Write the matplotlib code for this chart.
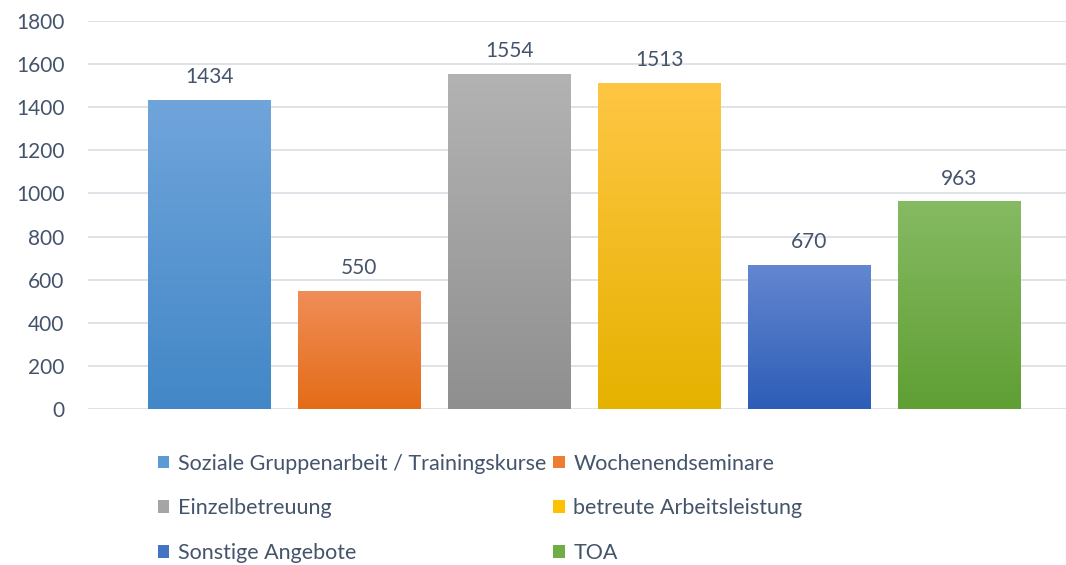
import numpy as np
import matplotlib
matplotlib.use("Agg")
import matplotlib.pyplot as plt
from matplotlib.colors import LinearSegmentedColormap
from matplotlib.patches import Patch

# -----------------------------
# Daten
# -----------------------------
kategorien = ["Soziale Gruppenarbeit / Trainingskurse", "Wochenendseminare",
              "Einzelbetreuung", "betreute Arbeitsleistung",
              "Sonstige Angebote", "TOA"]
werte = [1434, 550, 1554, 1513, 670, 963]

# Farbverlauf (oben, unten) je Balken
farben_oben = ["#70A5DB", "#F08E58", "#B3B3B3", "#FFC644", "#6487D0", "#86BA63"]
farben_unten = ["#4287C7", "#E46C17", "#8F8F8F", "#E5B200", "#2D5DB7", "#5F9F33"]
farben_mitte = ["#5B9BD5", "#ED7D31", "#A5A5A5", "#FFC000", "#4472C4", "#70AD47"]

textfarbe = "#44546A"
plt.rcParams['font.family'] = ['Lato', 'DejaVu Sans']

fig = plt.figure(figsize=(10.66, 5.65), dpi=100)
ax = fig.add_axes([88 / 1066, 1 - 409.3 / 565, 1 - 88 / 1066, (409.3 - 20.7) / 565])

x = np.arange(len(werte))
breite = 0.815
balken = ax.bar(x, werte, width=breite, color=farben_mitte, zorder=2)

# Farbverlauf in jedem Balken
for b, c_top, c_bot in zip(balken, farben_oben, farben_unten):
    cmap = LinearSegmentedColormap.from_list("g", [c_bot, c_top])
    grad = np.linspace(0, 1, 256).reshape(-1, 1)
    x0, y0 = b.get_x(), b.get_y()
    im = ax.imshow(grad, cmap=cmap, origin="lower", aspect="auto",
                   extent=[x0, x0 + b.get_width(), y0, y0 + b.get_height()],
                   zorder=3)
    im.set_clip_path(b)

# Werte über den Balken
for xi, v in zip(x, werte):
    ax.annotate(str(v), (xi, v), xytext=(0, 9), textcoords="offset points",
                ha="center", va="bottom", fontsize=15, color=textfarbe)

ax.set_xlim(-0.807, 5.713)
ax.set_ylim(0, 1800)
ax.set_yticks(np.arange(0, 1801, 200))
ax.set_xticks([])
ax.tick_params(axis="y", length=0, pad=17, labelsize=15, labelcolor=textfarbe)
ax.grid(axis="y", color="#D9DDE3", linewidth=1.2, zorder=0)
ax.set_axisbelow(True)
for s in ax.spines.values():
    s.set_visible(False)

# Legende (zeilenweise Reihenfolge)
handles = [Patch(facecolor=c, edgecolor="none") for c in farben_mitte]
order = [0, 2, 4, 1, 3, 5]
fig.legend([handles[i] for i in order], [kategorien[i] for i in order],
           loc="upper left", bbox_to_anchor=(149 / 1066, 1 - 445 / 565),
           ncol=2, frameon=False, fontsize=15.5, labelcolor=textfarbe,
           handlelength=0.55, handleheight=0.55, handletextpad=0.4,
           columnspacing=0.3, labelspacing=1.15, borderaxespad=0)

fig.savefig("out.png", dpi=100)
